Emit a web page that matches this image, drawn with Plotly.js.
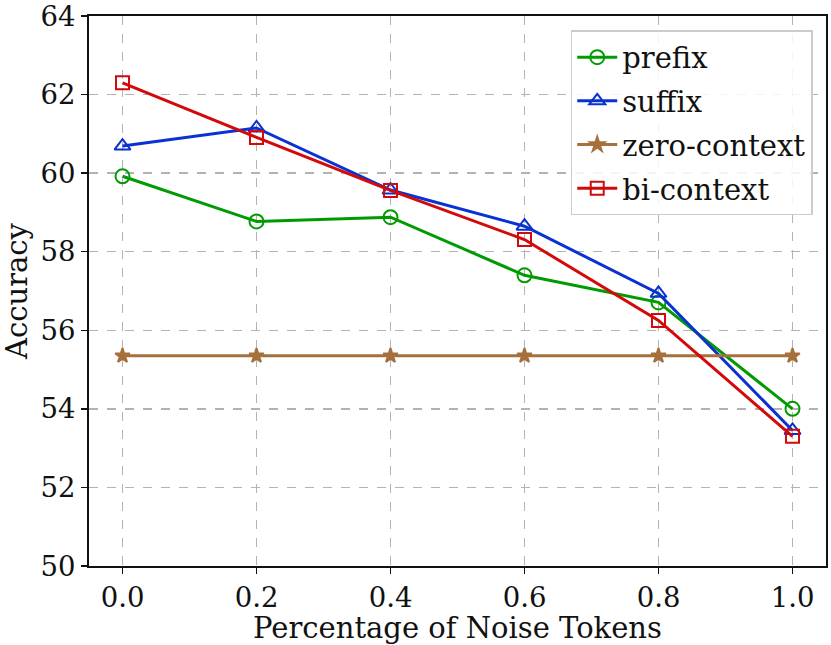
<!DOCTYPE html>
<html>
<head>
<meta charset="utf-8">
<script src="https://cdn.plot.ly/plotly-3.0.1.min.js"></script>
<style>
  body { margin: 0; background: #fff; }
  #myDiv { width: 831px; height: 645px; }
</style>
</head>
<body>
<div id="myDiv"></div>
<script>
// noise ratio on the x axis
const noise = [0.0, 0.2, 0.4, 0.6, 0.8, 1.0];

// accuracy per setting
const prefixAcc = [59.92, 58.77, 58.88, 57.40, 56.71, 54.00];
const suffixAcc = [60.69, 61.15, 59.57, 58.65, 56.94, 53.45];
const zeroAcc = [55.35, 55.35, 55.35, 55.35, 55.35, 55.35];
const biAcc = [62.30, 60.91, 59.56, 58.31, 56.25, 53.30];

const xTicks = [0.0, 0.2, 0.4, 0.6, 0.8, 1.0];
const xTickText = ['0.0', '0.2', '0.4', '0.6', '0.8', '1.0'];
const yTicks = [50, 52, 54, 56, 58, 60, 62, 64];

const font = 'DejaVu Serif, serif';

function makeTrace(name, y, color, symbol, size) {
    return {
        x: noise,
        y: y,
        name: name,
        legendgroup: name,
        type: 'scatter',
        mode: 'lines+markers',
        line: { color: color, width: 3 },
        marker: {
            symbol: symbol,
            size: size,
            color: color,
            line: { color: color, width: 2 }
        }
    };
}

const data = [
    makeTrace('prefix', prefixAcc, '#009b00', 'circle-open', 14),
    makeTrace('suffix', suffixAcc, '#0a32d2', 'triangle-up-open', 14),
    makeTrace('zero-context', zeroAcc, '#a5703c', 'star', 11),
    makeTrace('bi-context', biAcc, '#d20a0a', 'square-open', 13)
];

const axisCommon = {
    showline: true,
    linecolor: '#111',
    linewidth: 2,
    mirror: true,
    ticks: 'outside',
    ticklen: 6,
    tickwidth: 1.5,
    tickcolor: '#111',
    showgrid: true,
    gridcolor: '#b3b3b3',
    gridwidth: 1.3,
    griddash: 'dash',
    zeroline: false,
    ticklabeloverflow: 'allow',
    tickfont: { family: font, size: 27.5, color: '#111' }
};

const layout = {
    width: 831,
    height: 645,
    margin: { l: 89, r: 5, t: 16, b: 79 },
    paper_bgcolor: '#fff',
    plot_bgcolor: '#fff',
    font: { family: font, color: '#111' },
    xaxis: Object.assign({}, axisCommon, {
        range: [-0.05, 1.05],
        tickvals: xTicks,
        ticktext: xTickText,
        title: { text: 'Percentage of Noise Tokens', font: { family: font, size: 29 }, standoff: 6 }
    }),
    yaxis: Object.assign({}, axisCommon, {
        range: [50, 64],
        tickvals: yTicks,
        title: { text: 'Accuracy', font: { family: font, size: 29 }, standoff: 8 }
    }),
    legend: {
        x: 0.982,
        y: 0.974,
        xanchor: 'right',
        yanchor: 'top',
        bgcolor: 'rgba(255,255,255,0.85)',
        bordercolor: '#cccccc',
        borderwidth: 1.5,
        font: { family: font, size: 29, color: '#111' },
        tracegroupgap: 3,
        itemwidth: 40
    },
    showlegend: true
};

Plotly.newPlot('myDiv', data, layout, { staticPlot: true });
</script>
</body>
</html>
